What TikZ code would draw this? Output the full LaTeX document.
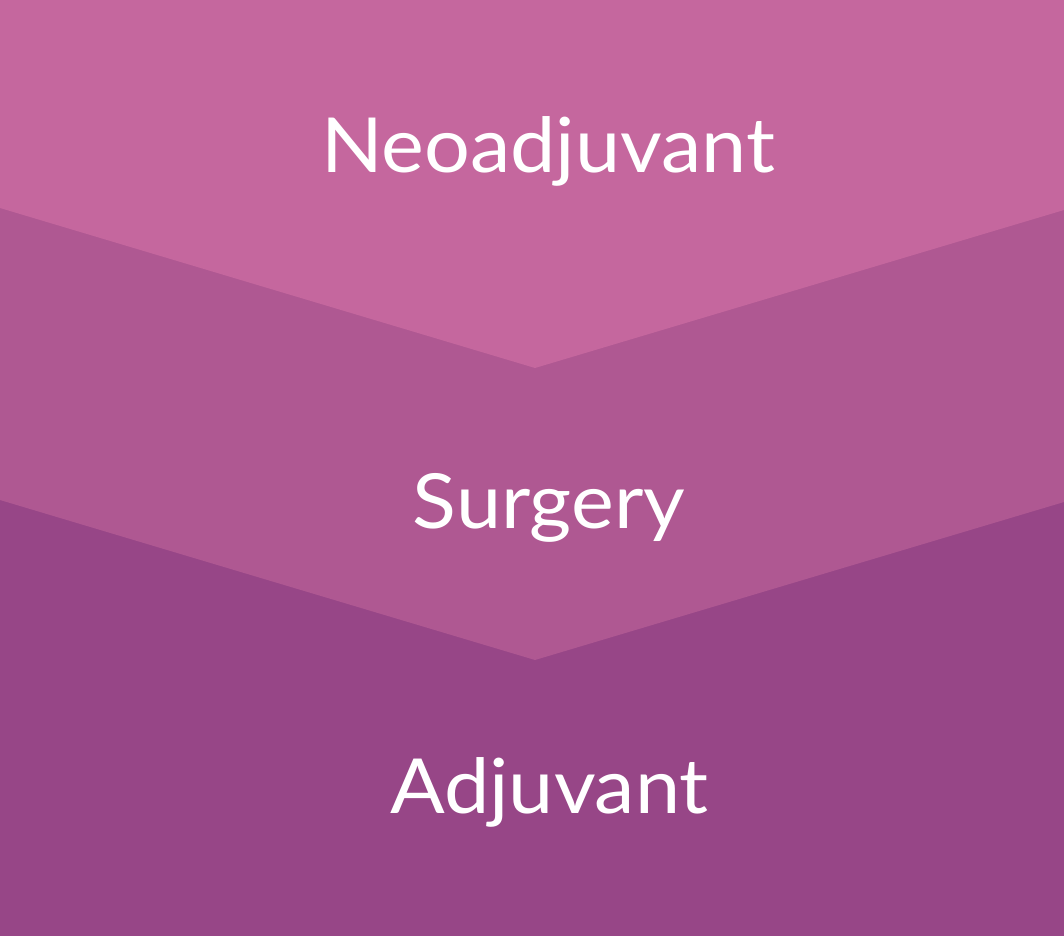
\documentclass[tikz,border=0pt]{standalone}
\usepackage{fontspec}
\setmainfont{Lato}[FakeStretch=1.065]
\definecolor{topc}{HTML}{C5679E}
\definecolor{midc}{HTML}{AF5892}
\definecolor{botc}{HTML}{974687}
\begin{document}
\begin{tikzpicture}[x=1pt,y=-1pt,
  lbl/.style={text=white,font=\fontsize{76}{80}\selectfont,anchor=base,inner sep=0pt}]
\useasboundingbox (0,0) rectangle (1064,936);
\fill[botc] (0,0) rectangle (1064,936);
\fill[midc] (0,0) -- (1064,0) -- (1064,502) -- (535,660) -- (0,500) -- cycle;
\fill[topc] (0,0) -- (1064,0) -- (1064,210) -- (535,368) -- (0,208) -- cycle;
\node[lbl] (neo) at (548,172) {Neoadjuvant};
\node[lbl] (sur) at (549,528) {Surgery};
\node[lbl] (adj) at (549.5,813) {Adjuvant};
\end{tikzpicture}
\end{document}
